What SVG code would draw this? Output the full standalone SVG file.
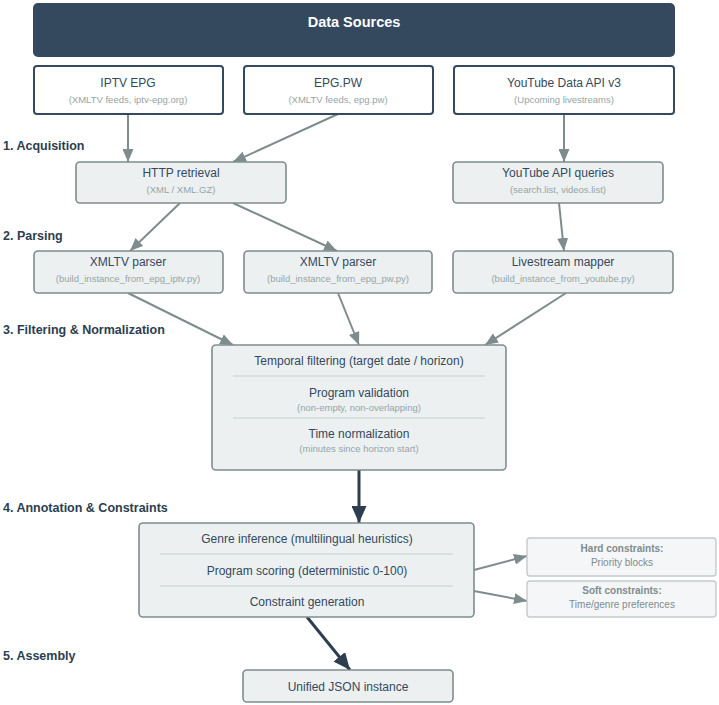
<svg xmlns="http://www.w3.org/2000/svg" width="719" height="705" viewBox="0 0 719 705">
<defs>
<style>
text{font-family:"Liberation Sans",Arial,sans-serif;text-anchor:middle}
.hdr{fill:#34495e}
.hdrt{fill:#ffffff;font-size:14.5px;font-weight:bold}
.src{fill:#ffffff;stroke:#34495e;stroke-width:2}
.box{fill:#ecf0f1;stroke:#7f8c8d;stroke-width:1.6}
.cbox{fill:#f4f6f7;stroke:#c3cbcc;stroke-width:1.4}
.t{fill:#34495e;font-size:12px}
.s{fill:#95a5a6;font-size:9.5px}
.ct{fill:#7f8c8d;font-size:10px}
.cb{fill:#7f8c8d;font-size:10px;font-weight:bold}
.sec{fill:#2c3e50;font-size:12.5px;font-weight:bold;text-anchor:start}
.div{stroke:#c8d0d2;stroke-width:1}
.c{stroke:#7f8c8d;stroke-width:2;fill:none;marker-end:url(#ag)}
.cd{stroke:#2c3e50;stroke-width:3;fill:none;marker-end:url(#ad)}
</style>
<marker id="ag" markerUnits="userSpaceOnUse" markerWidth="13" markerHeight="11" refX="13" refY="5.5" orient="auto"><path d="M0,0 L13,5.5 L0,11 z" fill="#7f8c8d"/></marker>
<marker id="ad" markerUnits="userSpaceOnUse" markerWidth="17" markerHeight="15" refX="17" refY="7.5" orient="auto"><path d="M0,0 L17,7.5 L0,15 z" fill="#2c3e50"/></marker>
</defs>

<g id="sections">
<text class="sec" x="3" y="150">1. Acquisition</text>
<text class="sec" x="3" y="240">2. Parsing</text>
<text class="sec" x="3" y="334">3. Filtering &amp; Normalization</text>
<text class="sec" x="3" y="512">4. Annotation &amp; Constraints</text>
<text class="sec" x="3" y="660">5. Assembly</text>
</g>

<g id="connectors">
<line class="c" x1="128" y1="114" x2="128" y2="162"/>
<line class="c" x1="338" y1="114" x2="233" y2="162"/>
<line class="c" x1="564" y1="114" x2="564" y2="162"/>
<line class="c" x1="180" y1="203" x2="130" y2="251"/>
<line class="c" x1="233" y1="203" x2="337" y2="251"/>
<line class="c" x1="559" y1="203" x2="564" y2="251"/>
<line class="c" x1="128" y1="293" x2="233" y2="345"/>
<line class="c" x1="338" y1="293" x2="359" y2="345"/>
<line class="c" x1="566" y1="293" x2="485" y2="345"/>
<line class="cd" x1="359" y1="470" x2="359" y2="523"/>
<line class="c" x1="474" y1="570" x2="527" y2="556"/>
<line class="c" x1="474" y1="591" x2="527" y2="601"/>
<line class="cd" x1="307" y1="617" x2="350" y2="670"/>
</g>

<g id="data-sources">
<rect class="hdr" x="33" y="3" width="642" height="54" rx="5"/>
<text class="hdrt" x="354" y="27">Data Sources</text>
</g>

<g id="iptv-epg">
<rect class="src" x="34" y="66" width="189" height="48" rx="3"/>
<text class="t" x="128" y="87">IPTV EPG</text>
<text class="s" x="128" y="103">(XMLTV feeds, iptv-epg.org)</text>
</g>
<g id="epg-pw">
<rect class="src" x="244" y="66" width="189" height="48" rx="3"/>
<text class="t" x="338" y="87">EPG.PW</text>
<text class="s" x="338" y="103">(XMLTV feeds, epg.pw)</text>
</g>
<g id="youtube-api">
<rect class="src" x="454" y="66" width="220" height="48" rx="3"/>
<text class="t" x="564" y="87">YouTube Data API v3</text>
<text class="s" x="564" y="103">(Upcoming livestreams)</text>
</g>

<g id="http-retrieval">
<rect class="box" x="76" y="162" width="210" height="41" rx="4"/>
<text class="t" x="181" y="177">HTTP retrieval</text>
<text class="s" x="181" y="193">(XML / XML.GZ)</text>
</g>
<g id="youtube-queries">
<rect class="box" x="453" y="162" width="210" height="41" rx="4"/>
<text class="t" x="558" y="177">YouTube API queries</text>
<text class="s" x="558" y="193">(search.list, videos.list)</text>
</g>

<g id="xmltv-parser-iptv">
<rect class="box" x="34" y="251" width="189" height="42" rx="4"/>
<text class="t" x="128" y="266">XMLTV parser</text>
<text class="s" x="128" y="282">(build_instance_from_epg_iptv.py)</text>
</g>
<g id="xmltv-parser-pw">
<rect class="box" x="244" y="251" width="188" height="42" rx="4"/>
<text class="t" x="338" y="266">XMLTV parser</text>
<text class="s" x="338" y="282">(build_instance_from_epg_pw.py)</text>
</g>
<g id="livestream-mapper">
<rect class="box" x="453" y="251" width="220" height="42" rx="4"/>
<text class="t" x="563" y="266">Livestream mapper</text>
<text class="s" x="563" y="282">(build_instance_from_youtube.py)</text>
</g>

<g id="filtering">
<rect class="box" x="212" y="345" width="294" height="125" rx="4"/>
<text class="t" x="359" y="365">Temporal filtering (target date / horizon)</text>
<line class="div" x1="233" y1="376" x2="485" y2="376"/>
<text class="t" x="359" y="397">Program validation</text>
<text class="s" x="359" y="411">(non-empty, non-overlapping)</text>
<line class="div" x1="233" y1="418" x2="485" y2="418"/>
<text class="t" x="359" y="438">Time normalization</text>
<text class="s" x="359" y="452">(minutes since horizon start)</text>
</g>

<g id="annotation">
<rect class="box" x="139" y="523" width="335" height="94" rx="4"/>
<text class="t" x="307" y="543">Genre inference (multilingual heuristics)</text>
<line class="div" x1="160" y1="554" x2="453" y2="554"/>
<text class="t" x="307" y="575">Program scoring (deterministic 0-100)</text>
<line class="div" x1="160" y1="586" x2="453" y2="586"/>
<text class="t" x="307" y="606">Constraint generation</text>
</g>

<g id="hard-constraints">
<rect class="cbox" x="527" y="538" width="189" height="38" rx="3"/>
<text class="cb" x="622" y="552">Hard constraints:</text>
<text class="ct" x="622" y="566">Priority blocks</text>
</g>
<g id="soft-constraints">
<rect class="cbox" x="527" y="581" width="189" height="36" rx="3"/>
<text class="cb" x="622" y="594">Soft constraints:</text>
<text class="ct" x="622" y="608">Time/genre preferences</text>
</g>

<g id="json-instance">
<rect class="box" x="243" y="670" width="210" height="32" rx="4"/>
<text class="t" x="348" y="691">Unified JSON instance</text>
</g>
</svg>
